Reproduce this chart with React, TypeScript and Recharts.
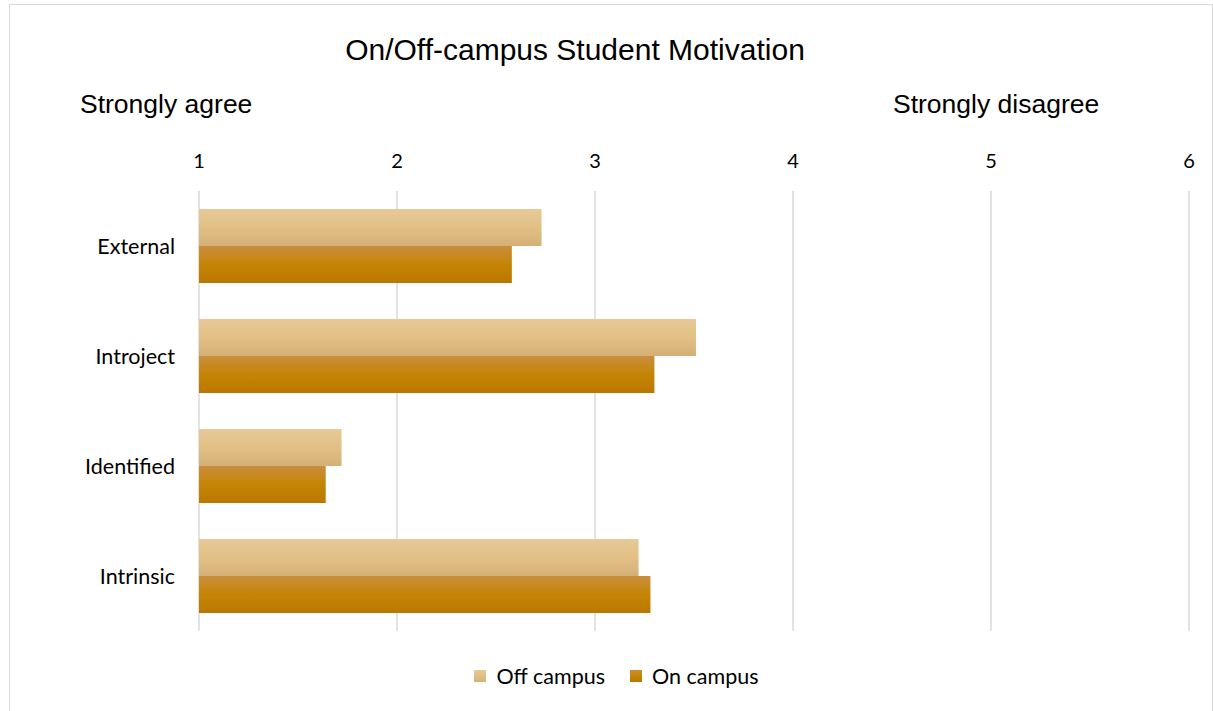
import React from "react";
import { BarChart, Bar, XAxis, YAxis, CartesianGrid, Legend } from "recharts";

const categories = ["External", "Introject", "Identified", "Intrinsic"];
const offCampus = [2.73, 3.51, 1.72, 3.22];
const onCampus = [2.58, 3.3, 1.64, 3.28];
const xTicks = [1, 2, 3, 4, 5, 6];

const data = categories.map((c, i) => ({ name: c, off: offCampus[i], on: onCampus[i] }));

const gradCss: Record<string, string> = {
  "url(#gOff)": "linear-gradient(#E6C997, #E2C085, #D4B076)",
  "url(#gOn)": "linear-gradient(#C98E3E, #C58504, #BA7700)",
};

const renderLegend = (props: any) => {
  const { payload } = props;
  return (
    <div style={{ display: "flex", justifyContent: "center", alignItems: "center", fontFamily: "Lato, sans-serif", fontSize: 21.5, color: "#000", paddingLeft: 44 }}>
      {payload.map((p: any, i: number) => (
        <div key={i} style={{ display: "flex", alignItems: "center", marginLeft: i === 0 ? 0 : 25 }}>
          <span style={{ display: "inline-block", width: 12, height: 12, background: gradCss[p.color] || p.color, marginRight: 10 }} />
          <span>{p.value}</span>
        </div>
      ))}
    </div>
  );
};

export default function App() {
  return (
    <div style={{ position: "absolute", left: 0, top: 0, width: 1213, height: 711, overflow: "hidden", background: "#fff" }}>
      <div style={{ position: "absolute", left: 9, top: 4, width: 1202, height: 740, border: "1px solid #d9d9d9" }} />
      <div style={{ position: "absolute", left: 0, width: 1150, top: 33, textAlign: "center", fontFamily: "Liberation Sans, Arial, sans-serif", fontSize: 30, color: "#000" }}>
        On/Off-campus Student Motivation
      </div>
      <div style={{ position: "absolute", left: 80, top: 89, fontFamily: "Liberation Sans, Arial, sans-serif", fontSize: 26.5, color: "#000" }}>
        Strongly agree
      </div>
      <div style={{ position: "absolute", left: 893, top: 89, fontFamily: "Liberation Sans, Arial, sans-serif", fontSize: 26.5, color: "#000" }}>
        Strongly disagree
      </div>
      <div style={{ position: "absolute", left: 0, top: 0 }}>
        <BarChart
          width={1213}
          height={711}
          data={data}
          layout="vertical"
          margin={{ top: 161, right: 24, left: 0, bottom: 54 }}
          barCategoryGap="16%"
          barGap={0}
        >
          <defs>
            <linearGradient id="gOff" x1="0" y1="0" x2="0" y2="1">
              <stop offset="0%" stopColor="#E6C997" />
              <stop offset="50%" stopColor="#E2C085" />
              <stop offset="100%" stopColor="#D4B076" />
            </linearGradient>
            <linearGradient id="gOn" x1="0" y1="0" x2="0" y2="1">
              <stop offset="0%" stopColor="#C98E3E" />
              <stop offset="50%" stopColor="#C58504" />
              <stop offset="100%" stopColor="#BA7700" />
            </linearGradient>
          </defs>
          <CartesianGrid horizontal={false} stroke="#d9d9d9" strokeWidth={1.5} />
          <XAxis
            type="number"
            orientation="top"
            domain={[1, 6]}
            ticks={xTicks}
            allowDataOverflow
            axisLine={false}
            tickLine={false}
            height={30}
            tickMargin={17}
            tick={{ fill: "#000", fontSize: 20, fontFamily: "Lato, sans-serif" }}
          />
          <YAxis
            type="category"
            dataKey="name"
            width={199}
            axisLine={false}
            tickLine={false}
            tickMargin={18}
            tick={{ fill: "#000", fontSize: 21.5, fontFamily: "Lato, sans-serif" }}
          />
          <Legend
            verticalAlign="bottom"
            content={renderLegend}
            wrapperStyle={{ bottom: 22 }}
          />
          <Bar dataKey="off" name="Off campus" fill="url(#gOff)" barSize={37} isAnimationActive={false} />
          <Bar dataKey="on" name="On campus" fill="url(#gOn)" barSize={37} isAnimationActive={false} />
        </BarChart>
      </div>
    </div>
  );
}
